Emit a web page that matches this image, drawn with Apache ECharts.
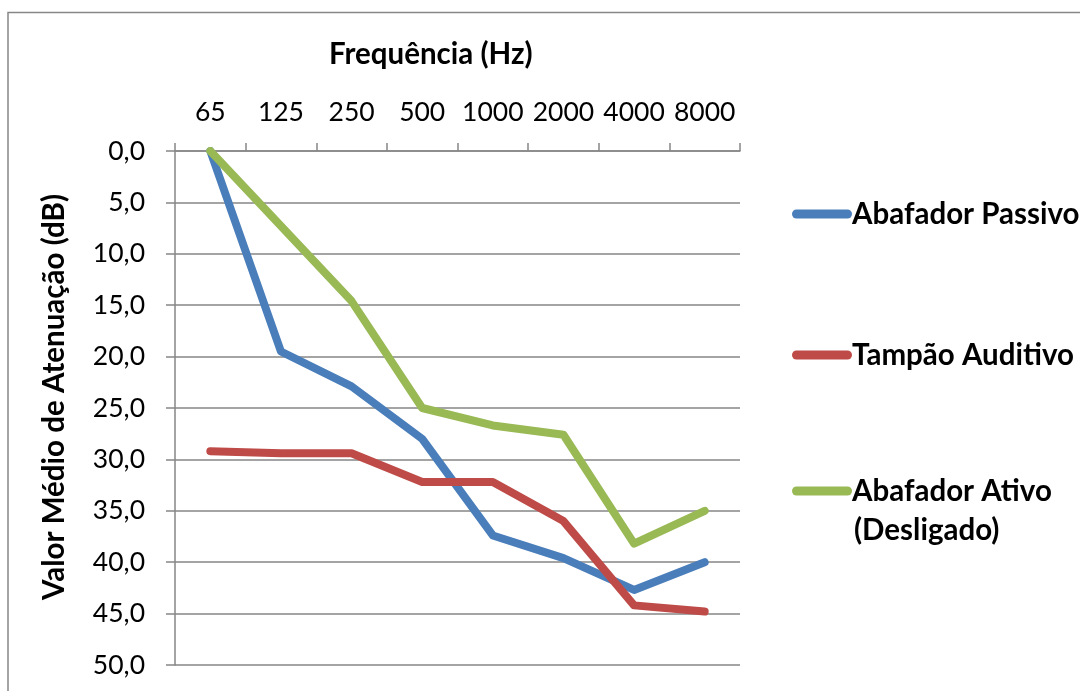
<!DOCTYPE html>
<html>
<head>
<meta charset="utf-8">
<script src="https://cdn.jsdelivr.net/npm/echarts@6/dist/echarts.min.js"></script>
<style>
  html, body { margin: 0; padding: 0; background: #ffffff; }
  #chart { width: 1080px; height: 691px; }
</style>
</head>
<body>
<div id="chart"></div>
<script>
// Frequency bands (Hz)
const frequencies = ['65', '125', '250', '500', '1000', '2000', '4000', '8000'];

// Mean attenuation values (dB) per device
const abafadorPassivo = [0.0, 19.5, 22.9, 28.0, 37.4, 39.6, 42.7, 40.0];
const tampaoAuditivo = [29.2, 29.4, 29.4, 32.2, 32.2, 36.0, 44.2, 44.8];
const abafadorAtivo = [0.0, 7.3, 14.6, 25.0, 26.7, 27.6, 38.2, 35.0];

const seriesNames = ['Abafador Passivo', 'Tampão Auditivo', 'Abafador Ativo (Desligado)'];
const seriesColors = ['#4a7ebb', '#be4b48', '#98b954'];

const FONT = 'Lato, "Open Sans", sans-serif';
const GRID_COLOR = '#868686';
const ICON = 'path://M4.5,0 H55.5 A4.5,4.5 0 0 1 55.5,9 H4.5 A4.5,4.5 0 0 1 4.5,0 Z';

const chart = echarts.init(document.getElementById('chart'), null, { renderer: 'canvas' });

// One legend block per series so each entry sits at its own height
function legendFor(idx, top, extra) {
  return Object.assign({
    data: [seriesNames[idx]],
    orient: 'vertical',
    left: 792,
    top: top,
    icon: ICON,
    itemWidth: 60,
    itemHeight: 9,
    itemGap: 0,
    padding: 0,
    selectedMode: false,
    textStyle: {
      fontFamily: FONT,
      fontWeight: 'bold',
      fontSize: 29.5,
      color: '#000000',
      padding: [0, 0, 0, -5]
    }
  }, extra || {});
}

function lineSeries(idx, values) {
  return {
    name: seriesNames[idx],
    type: 'line',
    data: values,
    symbol: 'none',
    lineStyle: { color: seriesColors[idx], width: 8, cap: 'round', join: 'round' },
    itemStyle: { color: seriesColors[idx] },
    animation: false
  };
}

const option = {
  backgroundColor: '#ffffff',
  animation: false,
  graphic: [
    {
      type: 'rect',
      shape: { x: 8, y: 12.5, width: 1200, height: 800 },
      style: { fill: 'none', stroke: GRID_COLOR, lineWidth: 1.5 },
      silent: true
    },
    {
      // value axis title, rotated to read bottom-to-top
      type: 'text',
      x: 54,
      y: 397,
      rotation: Math.PI / 2,
      style: {
        text: 'Valor Médio de Atenuação (dB)',
        fontFamily: FONT,
        fontWeight: 'bold',
        fontSize: 29.5,
        fill: '#000000',
        align: 'center',
        verticalAlign: 'middle'
      },
      silent: true
    },
    {
      // second line of the third legend entry
      type: 'text',
      x: 854,
      y: 530,
      style: {
        text: '(Desligado)',
        fontFamily: FONT,
        fontWeight: 'bold',
        fontSize: 29.5,
        fill: '#000000',
        align: 'left',
        verticalAlign: 'middle'
      },
      silent: true
    }
  ],
  title: {
    text: 'Frequência (Hz)',
    left: 329,
    top: 39,
    padding: 0,
    textStyle: { fontFamily: FONT, fontWeight: 'bold', fontSize: 29.5, color: '#000000' }
  },
  legend: [
    legendFor(0, 199),
    legendFor(1, 340),
    legendFor(2, 476, {
      formatter: function () { return 'Abafador Ativo'; }
    })
  ],
  grid: { left: 175, right: 340, top: 151, bottom: 26, containLabel: false },
  xAxis: {
    type: 'category',
    position: 'top',
    data: frequencies,
    boundaryGap: true,
    axisLine: { show: true, lineStyle: { color: GRID_COLOR, width: 1.5 } },
    axisTick: { show: true, length: 8, lineStyle: { color: GRID_COLOR, width: 1.5 } },
    axisLabel: { interval: 0, margin: 25, fontFamily: FONT, fontSize: 26.5, color: '#000000' },
    splitLine: { show: false }
  },
  yAxis: {
    type: 'value',
    inverse: true,
    min: 0,
    max: 50,
    interval: 5,
    axisLine: { show: true, lineStyle: { color: GRID_COLOR, width: 1.5 } },
    axisTick: { show: true, length: 9, lineStyle: { color: GRID_COLOR, width: 1.5 } },
    axisLabel: {
      margin: 30,
      fontFamily: FONT,
      fontSize: 26.5,
      color: '#000000',
      formatter: function (v) { return v.toFixed(1).replace('.', ','); }
    },
    splitLine: { show: true, lineStyle: { color: GRID_COLOR, width: 1.5 } }
  },
  series: [
    lineSeries(0, abafadorPassivo),
    lineSeries(1, tampaoAuditivo),
    lineSeries(2, abafadorAtivo)
  ]
};

chart.setOption(option);
</script>
</body>
</html>
